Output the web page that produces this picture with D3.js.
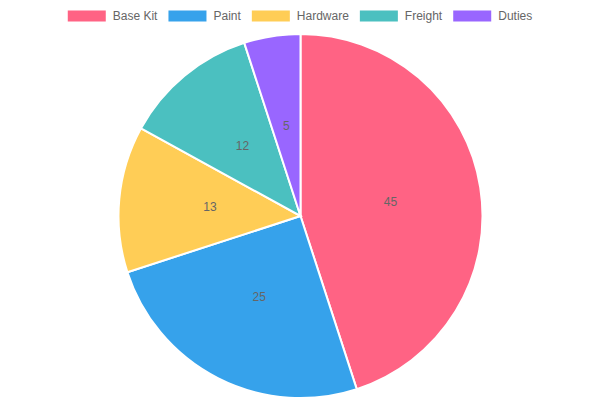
<!DOCTYPE html>
<html>
<head>
<meta charset="utf-8">
<script src="https://cdn.jsdelivr.net/npm/d3@7"></script>
<style>
  body { margin: 0; background: #fff; }
  svg text { font-family: "Liberation Sans", Arial, Helvetica, sans-serif; }
</style>
</head>
<body>
<div class="chart"></div>
<script>
// data
const categories = ["Base Kit", "Paint", "Hardware", "Freight", "Duties"];
const values = [45, 25, 13, 12, 5];
const colors = ["#ff6384", "#36a2eb", "#ffcd56", "#4bc0c0", "#9966ff"];

const width = 600, height = 400;
const cx = 300.5, cy = 216, radius = 182;

let svg = d3.select(".chart").append("svg")
    .attr("width", width)
    .attr("height", height);

let data = categories.map((c, i) => ({ name: c, value: values[i] }));

let color = d3.scaleOrdinal()
    .domain(categories)
    .range(colors);

let pie = d3.pie()
    .value(d => d.value)
    .sort(null);

let arc = d3.arc()
    .innerRadius(0)
    .outerRadius(radius);

let labelArc = d3.arc()
    .innerRadius(radius / 2)
    .outerRadius(radius / 2);

let g = svg.append("g")
    .attr("transform", `translate(${cx}, ${cy})`);

let arcs = pie(data);

g.selectAll(".slice")
    .data(arcs)
    .join("path")
    .attr("class", "slice")
    .attr("fill", d => color(d.data.name))
    .attr("stroke", "#fff")
    .attr("stroke-width", 2)
    .attr("d", arc);

// value labels at the middle of each slice
g.selectAll(".value-label")
    .data(arcs)
    .join("text")
    .attr("class", "value-label")
    .attr("transform", d => `translate(${labelArc.centroid(d)})`)
    .attr("text-anchor", "middle")
    .attr("dominant-baseline", "central")
    .attr("font-size", 12)
    .attr("fill", "#666")
    .text(d => d.data.value);

// legend, centred on top
let legend = svg.append("g").attr("class", "legend");
const boxW = 38, boxH = 11, gap = 7, itemGap = 11;

let items = legend.selectAll(".item")
    .data(categories)
    .join("g")
    .attr("class", "item");

items.append("rect")
    .attr("width", boxW)
    .attr("height", boxH)
    .attr("y", 10.5)
    .attr("fill", d => color(d));

items.append("text")
    .attr("x", boxW + gap)
    .attr("y", 16)
    .attr("dominant-baseline", "central")
    .attr("font-size", 12)
    .attr("fill", "#666")
    .text(d => d);

// measure and place items
let widths = [];
items.each(function () {
    let t = d3.select(this).select("text").node().getComputedTextLength();
    widths.push(boxW + gap + t);
});
let total = d3.sum(widths) + itemGap * (widths.length - 1);
let x = (width - total) / 2;
items.attr("transform", (d, i) => {
    let tx = x;
    x += widths[i] + itemGap;
    return `translate(${tx}, 0)`;
});
</script>
</body>
</html>
